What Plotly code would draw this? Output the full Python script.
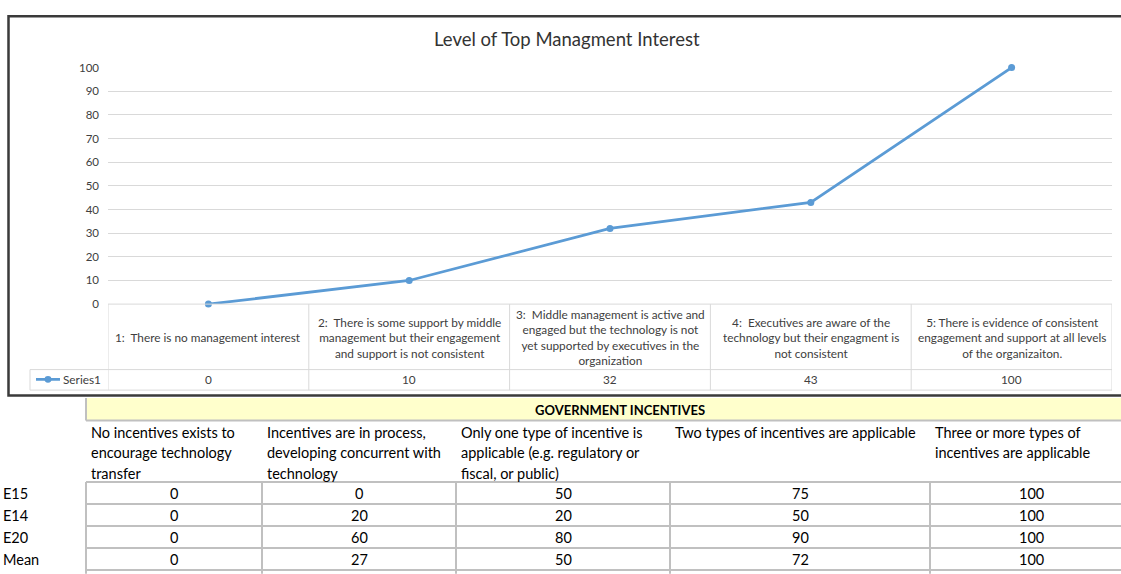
import plotly.graph_objects as go

# ---------------- data ----------------
chart_title = "Level of Top Managment Interest"
categories = [
    "1:  There is no management interest",
    "2:  There is some support by middle\nmanagement but their engagement\nand support is not consistent",
    "3:  Middle management is active and\nengaged but the technology is not\nyet supported by executives in the\norganization",
    "4:  Executives are aware of the\ntechnology but their engagment is\nnot consistent",
    "5: There is evidence of consistent\nengagement and support at all levels\nof the organizaiton.",
]
series_name = "Series1"
series_values = [0, 10, 32, 43, 100]
y_ticks = [0, 10, 20, 30, 40, 50, 60, 70, 80, 90, 100]

incentive_title = "GOVERNMENT INCENTIVES"
incentive_headers = [
    "No incentives exists to\nencourage technology\ntransfer",
    "Incentives are in process,\ndeveloping concurrent with\ntechnology",
    "Only one type of incentive is\napplicable (e.g. regulatory or\nfiscal, or public)",
    "Two types of incentives are applicable",
    "Three or more types of\nincentives are applicable",
]
row_labels = ["E15", "E14", "E20", "Mean"]
e15_values = [0, 0, 50, 75, 100]
e14_values = [0, 20, 20, 50, 100]
e20_values = [0, 60, 80, 90, 100]
mean_values = [0, 27, 50, 72, 100]
incentive_rows = [e15_values, e14_values, e20_values, mean_values]

# ---------------- layout helpers ----------------
W, H = 1121, 574
FONT = "Lato"
BLUE = "#5B9BD5"
GRID = "#d9d9d9"
CELL = "#c0c0c0"


def fx(px):
    return px / W


def fy(py):
    return 1 - py / H


idx = list(range(len(categories)))

fig = go.Figure()
fig.add_trace(go.Scatter(
    x=idx, y=series_values, mode="lines+markers", name=series_name,
    line=dict(color=BLUE, width=2.75), marker=dict(color=BLUE, size=7),
    cliponaxis=False, showlegend=False,
))

shapes = []
annotations = []


def hline(x0, x1, y, color, width=1, xref="paper"):
    shapes.append(dict(type="line", xref=xref, yref="paper",
                       x0=x0 if xref != "paper" else fx(x0),
                       x1=x1 if xref != "paper" else fx(x1),
                       y0=fy(y), y1=fy(y), line=dict(color=color, width=width)))


def vline(x, y0, y1, color, width=1, xref="paper"):
    shapes.append(dict(type="line", xref=xref, yref="paper",
                       x0=x if xref != "paper" else fx(x),
                       x1=x if xref != "paper" else fx(x),
                       y0=fy(y0), y1=fy(y1), line=dict(color=color, width=width)))


def text(x, y, s, size=11, color="#404040", xanchor="center", yanchor="middle",
         xref="paper", bold=False, align="center"):
    if bold:
        s = "<b>" + s + "</b>"
    annotations.append(dict(
        x=x if xref != "paper" else fx(x), y=fy(y), xref=xref, yref="paper",
        text=s, showarrow=False, xanchor=xanchor, yanchor=yanchor, align=align,
        font=dict(family=FONT, size=size, color=color)))


# ----- chart data table -----
cat_top, cat_bot, ser_bot = 304, 371, 392
n = len(categories)
hline(-0.5, n - 0.5, cat_top, GRID, xref="x")
hline(30, 1112, cat_bot, GRID)
hline(30, 1112, ser_bot, GRID)
vline(30, cat_bot, ser_bot, GRID)
for i in range(n + 1):
    vline(i - 0.5, cat_top, ser_bot, GRID, xref="x")
for i, (c, v) in enumerate(zip(categories, series_values)):
    text(i, (cat_top + cat_bot) / 2 + 1, c.replace("\n", "<br>"), size=11.8, xref="x")
    text(i, (cat_bot + ser_bot) / 2, str(v), size=11.8, xref="x")
# legend key
shapes.append(dict(type="line", xref="paper", yref="paper", x0=fx(36), x1=fx(60),
                   y0=fy(381), y1=fy(381), line=dict(color=BLUE, width=2.75)))
shapes.append(dict(type="circle", xref="paper", yref="paper", x0=fx(44.5), x1=fx(51.5),
                   y0=fy(384.5), y1=fy(377.5), fillcolor=BLUE, line=dict(width=0)))
text(61, 381, series_name, size=11.8, xanchor="left")

# title
text(567, 33, chart_title, size=18.5, color="#333333")

# chart border
shapes.append(dict(type="rect", xref="paper", yref="paper", x0=fx(8.5), x1=fx(1135),
                   y0=fy(397.5), y1=fy(9.5), line=dict(color="#3a3a3a", width=2.5),
                   layer="above"))

# ----- spreadsheet below -----
col_edges = [86, 262, 456, 670, 930, 1132]
shapes.append(dict(type="rect", xref="paper", yref="paper", x0=fx(86), x1=fx(1135),
                   y0=fy(423), y1=fy(400), fillcolor="#FFFFCC", line=dict(width=0),
                   layer="below"))
vline(86, 400, 423, CELL, width=2)
hline(86, 1135, 423, CELL, width=2)
text(620, 412, incentive_title, size=13, color="#000000", bold=True)

header_lines_y = [435, 456, 477]
for j, h in enumerate(incentive_headers):
    for k, line in enumerate(h.split("\n")):
        text(col_edges[j] + 3, header_lines_y[k], line, size=14.5, color="#000000",
             xanchor="left")

row_lines_y = [486, 508.5, 531, 553.5, 576]
for yl in row_lines_y:
    hline(86, 1135, yl, CELL, width=2)
for xe in col_edges[:-1]:
    vline(xe, 486, 580, CELL, width=2)

for r, (lab, vals) in enumerate(zip(row_labels, incentive_rows)):
    yc = (row_lines_y[r] + row_lines_y[r + 1]) / 2 + 1
    text(1, yc, lab, size=14.5, color="#000000", xanchor="left")
    for j, v in enumerate(vals):
        text((col_edges[j] + col_edges[j + 1]) / 2, yc, str(v), size=14.5, color="#000000")

fig.update_layout(
    width=W, height=H, margin=dict(l=0, r=0, t=0, b=0),
    paper_bgcolor="white", plot_bgcolor="white",
    showlegend=False,
    xaxis=dict(domain=[fx(108), fx(1112)], range=[-0.5, n - 0.5], showgrid=False,
               zeroline=False, showline=False, showticklabels=False, ticks=""),
    yaxis=dict(domain=[fy(304), fy(62)], range=[0, 100], tickvals=y_ticks,
               showgrid=True, gridcolor=GRID, gridwidth=1, zeroline=False,
               showline=False, ticks="", ticklabelstandoff=8,
               tickfont=dict(family=FONT, size=11.5, color="#404040")),
    shapes=shapes, annotations=annotations,
)

fig.write_html("out.html", config={"displayModeBar": False},
               post_script="document.body.style.margin='0';document.body.style.overflow='hidden';")
